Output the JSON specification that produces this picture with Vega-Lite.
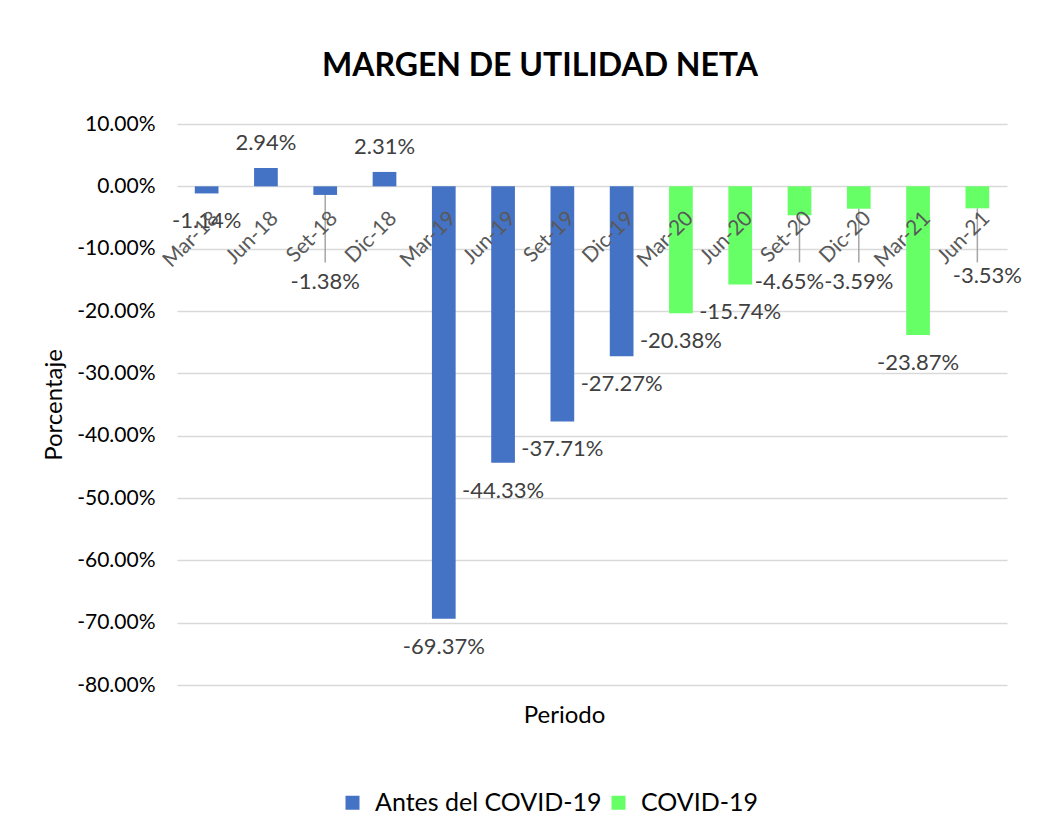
{
  "$schema": "https://vega.github.io/schema/vega-lite/v6.json",
  "width": 830,
  "height": 561,
  "autosize": {"type": "none"},
  "padding": {"left": 177, "top": 124, "right": 49, "bottom": 154},
  "background": "white",
  "title": {"text": "MARGEN DE UTILIDAD NETA", "font": "Lato", "fontSize": 32, "fontWeight": "bold", "color": "#000000", "anchor": "middle", "dx": -52, "offset": 30},
  "config": {
    "locale": {"number": {"decimal": ".", "thousands": ",", "grouping": [3], "currency": ["$", ""], "minus": "-"}},
    "view": {"stroke": null}
  },
  "data": {"values": [
    {"Periodo": "Mar-18", "Margen": -0.0114, "Etapa": "Antes del COVID-19"},
    {"Periodo": "Jun-18", "Margen": 0.0294, "Etapa": "Antes del COVID-19"},
    {"Periodo": "Set-18", "Margen": -0.0138, "Etapa": "Antes del COVID-19"},
    {"Periodo": "Dic-18", "Margen": 0.0231, "Etapa": "Antes del COVID-19"},
    {"Periodo": "Mar-19", "Margen": -0.6937, "Etapa": "Antes del COVID-19"},
    {"Periodo": "Jun-19", "Margen": -0.4433, "Etapa": "Antes del COVID-19"},
    {"Periodo": "Set-19", "Margen": -0.3771, "Etapa": "Antes del COVID-19"},
    {"Periodo": "Dic-19", "Margen": -0.2727, "Etapa": "Antes del COVID-19"},
    {"Periodo": "Mar-20", "Margen": -0.2038, "Etapa": "COVID-19"},
    {"Periodo": "Jun-20", "Margen": -0.1574, "Etapa": "COVID-19"},
    {"Periodo": "Set-20", "Margen": -0.0465, "Etapa": "COVID-19"},
    {"Periodo": "Dic-20", "Margen": -0.0359, "Etapa": "COVID-19"},
    {"Periodo": "Mar-21", "Margen": -0.2387, "Etapa": "COVID-19"},
    {"Periodo": "Jun-21", "Margen": -0.0353, "Etapa": "COVID-19"}
  ]},
  "encoding": {
    "x": {
      "field": "Periodo", "type": "nominal", "sort": null,
      "scale": {"paddingInner": 0.6, "paddingOuter": 0.3},
      "axis": {"title": "Periodo", "labels": false, "ticks": false, "domain": false, "grid": false,
        "titleFont": "Lato", "titleFontSize": 24, "titleFontWeight": "normal", "titleColor": "#000000",
        "titlePadding": 18, "titleX": 387, "titleAlign": "center"}
    }
  },
  "layer": [
    {
      "mark": {"type": "bar"},
      "encoding": {
        "y": {
          "field": "Margen", "type": "quantitative",
          "scale": {"domain": [-0.8, 0.1], "nice": false, "zero": false},
          "axis": {"title": "Porcentaje", "format": ".2%",
            "values": [-0.8, -0.7, -0.6, -0.5, -0.4, -0.3, -0.2, -0.1, 0, 0.1],
            "grid": true, "gridColor": "#d9d9d9", "gridWidth": 1.5,
            "domain": false, "ticks": false,
            "labelFont": "Lato", "labelFontSize": 21, "labelColor": "#000000", "labelPadding": 22,
            "titleFont": "Lato", "titleFontSize": 24, "titleFontWeight": "normal", "titleColor": "#000000", "titlePadding": 10}
        },
        "color": {
          "field": "Etapa", "type": "nominal",
          "scale": {"domain": ["Antes del COVID-19", "COVID-19"], "range": ["#4472C4", "#66FF66"]},
          "legend": {"orient": "none", "legendX": 163, "legendY": 666, "direction": "horizontal", "title": null,
            "symbolType": "square", "symbolSize": 196, "symbolStrokeWidth": 0,
            "labelFont": "Lato", "labelFontSize": 25, "labelColor": "#000000", "labelLimit": 0,
            "columnPadding": 4, "labelOffset": 10, "padding": 0}
        }
      }
    },
    {
      "transform": [{"filter": "indexof(['Set-18','Set-20','Dic-20','Jun-21'], datum.Periodo) >= 0"}],
      "mark": {"type": "rule", "color": "#a6a6a6", "strokeWidth": 1.5},
      "encoding": {
        "y": {"field": "Margen", "type": "quantitative"},
        "y2": {"datum": -0.122}
      }
    },
    {
      "transform": [{"filter": "datum.Margen >= 0"}],
      "mark": {"type": "text", "baseline": "middle", "align": "center", "dy": -25, "font": "Lato", "fontSize": 22, "color": "#404040"},
      "encoding": {
        "y": {"field": "Margen", "type": "quantitative"},
        "text": {"field": "Margen", "type": "quantitative", "format": ".2%"}
      }
    },
    {
      "transform": [{"filter": "datum.Margen < 0 && indexof(['Set-18','Set-20','Dic-20','Jun-21'], datum.Periodo) < 0"}],
      "mark": {"type": "text", "baseline": "middle", "align": "center", "dy": 28, "font": "Lato", "fontSize": 22, "color": "#404040"},
      "encoding": {
        "y": {"field": "Margen", "type": "quantitative"},
        "text": {"field": "Margen", "type": "quantitative", "format": ".2%"}
      }
    },
    {
      "transform": [{"filter": "indexof(['Set-18','Dic-20'], datum.Periodo) >= 0"}],
      "mark": {"type": "text", "baseline": "middle", "align": "center", "font": "Lato", "fontSize": 22, "color": "#404040"},
      "encoding": {
        "y": {"datum": -0.154, "type": "quantitative"},
        "text": {"field": "Margen", "type": "quantitative", "format": ".2%"}
      }
    },
    {
      "transform": [{"filter": "datum.Periodo == 'Set-20'"}],
      "mark": {"type": "text", "baseline": "middle", "align": "center", "dx": -10, "font": "Lato", "fontSize": 22, "color": "#404040"},
      "encoding": {
        "y": {"datum": -0.154, "type": "quantitative"},
        "text": {"field": "Margen", "type": "quantitative", "format": ".2%"}
      }
    },
    {
      "transform": [{"filter": "datum.Periodo == 'Jun-21'"}],
      "mark": {"type": "text", "baseline": "middle", "align": "center", "dx": 10, "font": "Lato", "fontSize": 22, "color": "#404040"},
      "encoding": {
        "y": {"datum": -0.144, "type": "quantitative"},
        "text": {"field": "Margen", "type": "quantitative", "format": ".2%"}
      }
    },
    {
      "mark": {"type": "text", "angle": -45, "align": "right", "baseline": "middle", "dx": -14, "dy": 27, "font": "Lato", "fontSize": 21, "color": "#595959"},
      "encoding": {
        "y": {"datum": 0, "type": "quantitative"},
        "text": {"field": "Periodo", "type": "nominal"}
      }
    }
  ]
}
